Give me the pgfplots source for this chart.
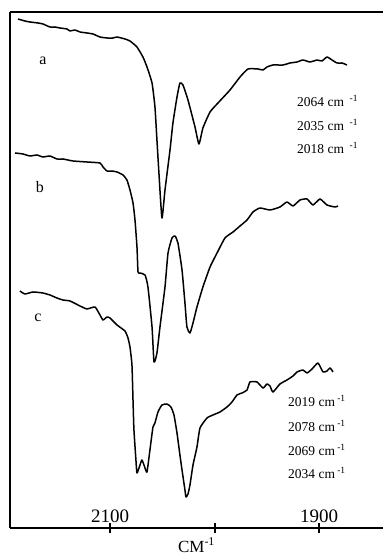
\documentclass[border=0pt]{standalone}
\usepackage{pgfplots}
\pgfplotsset{compat=1.18}
\usepackage{fontspec}
\setmainfont{Liberation Serif}
\tikzset{spec/.style={black, mark=none, line width=1.5bp, line join=round, smooth, tension=0.3}}
\begin{document}
\begin{tikzpicture}
\begin{axis}[name=ax, at={(0,0)}, anchor=south west,
  scale only axis, width=373bp, height=516bp,
  x dir=reverse, xmin=1838.8, xmax=2195.7, ymin=0, ymax=516,
  axis x line=bottom, axis y line=left,
  axis line style={-, line width=2.6bp},
  ytick=\empty,
  xtick={2100,2000,1900}, xticklabels={2100,,1900},
  tick align=center, major tick length=10bp,
  xtick style={line width=2bp, black},
  /pgf/number format/assume math mode=true,
  xticklabel style={anchor=south, yshift=7bp, font=\fontsize{19bp}{22bp}\selectfont},
  xlabel={CM\textsuperscript{-1}},
  every axis x label/.style={at={(axis description cs:0.5,0)}, anchor=base, yshift=-24bp, font=\fontsize{17bp}{20bp}\selectfont},
  clip=false,
]
\addplot[spec] coordinates {
(2188.1,509)(2181.4,507)(2176.6,506)(2168.9,505)(2164.2,504)(2157.5,501)(2152.7,501)
(2147.9,500)(2141.2,499)(2138.3,497)(2133.5,498)(2128.7,496)(2122.0,495)(2116.3,494)
(2109.6,491)(2102.9,490)(2097.2,490)(2093.3,491)(2085.7,489)(2080.9,487)(2074.2,481)
(2068.5,471)(2064.6,461)(2059.8,445)(2057.0,421)(2055.1,388)(2053.2,355)(2050.3,310)
(2047.4,338)(2042.6,378)(2039.8,405)(2035.9,431)(2033.1,445)(2030.2,443)(2025.4,428)
(2018.7,401)(2014.9,384)(2011.1,400)(2004.3,416)(1996.7,425)(1985.2,438)(1975.6,451)
(1968.0,459)(1958.4,459)(1953.6,458)(1949.8,461)(1944.1,463)(1934.5,463)(1927.8,465)
(1921.1,466)(1915.4,468)(1908.7,466)(1901.9,468)(1897.2,467)(1892.4,471)(1887.6,468)
(1882.8,465)(1878.0,465)(1873.3,463)
};
\addplot[spec] coordinates {
(2190.9,375)(2183.3,374)(2176.6,372)(2169.9,373)(2164.2,371)(2157.5,372)(2150.8,369)
(2145.0,369)(2135.4,367)(2122.0,366)(2109.6,365)(2106.7,361)(2102.9,357)(2098.1,357)
(2093.3,356)(2087.6,353)(2083.8,348)(2080.9,338)(2078.0,325)(2076.1,308)(2074.2,281)
(2073.2,256)(2071.3,255)(2066.5,253)(2063.7,241)(2059.8,201)(2057.9,166)(2055.1,175)
(2052.2,201)(2047.4,241)(2044.5,275)(2040.7,290)(2037.8,292)(2035.0,285)(2031.1,258)
(2028.3,225)(2026.4,201)(2023.5,195)(2020.6,205)(2016.8,221)(2011.1,241)(2004.3,261)
(1997.6,275)(1990.0,290)(1982.3,296)(1975.6,302)(1968.9,308)(1963.2,316)(1956.5,320)
(1946.9,318)(1937.4,321)(1930.7,326)(1924.9,322)(1918.2,328)(1911.5,329)(1905.8,323)
(1899.1,329)(1892.4,323)(1884.7,321)(1881.9,322)
};
\addplot[spec] coordinates {
(2186.2,237)(2181.4,234)(2173.7,236)(2164.2,235)(2157.5,233)(2150.8,230)(2145.0,228)
(2138.3,227)(2128.7,222)(2122.0,219)(2114.4,221)(2109.6,213)(2106.7,208)(2102.9,211)
(2100.0,210)(2093.3,203)(2085.7,197)(2082.8,190)(2080.9,181)(2079.0,163)(2078.0,128)
(2077.1,98)(2075.2,68)(2074.2,55)(2071.3,63)(2069.4,68)(2066.5,60)(2064.6,56)
(2061.8,78)(2058.9,101)(2057.0,105)(2054.1,116)(2050.3,123)(2045.5,124)(2041.7,121)
(2038.8,113)(2035.9,95)(2033.1,73)(2031.1,58)(2028.3,38)(2027.3,31)(2025.4,34)
(2023.5,43)(2020.6,63)(2016.8,81)(2013.9,100)(2007.2,110)(2001.5,113)(1994.8,116)
(1988.1,121)(1983.3,126)(1978.5,133)(1973.7,135)(1968.9,138)(1966.1,146)(1959.4,146)
(1953.6,140)(1949.8,144)(1946.9,142)(1944.1,136)(1937.4,144)(1930.7,148)(1924.9,152)
(1921.1,156)(1915.4,158)(1911.5,155)(1906.7,159)(1901.0,165)(1896.2,156)(1892.4,157)
(1889.5,160)(1886.6,156)
};
\draw[line width=2bp] (rel axis cs:0,1) -- (rel axis cs:1,1);
\begin{scope}[every node/.style={font=\fontsize{16bp}{19bp}\selectfont, inner sep=0pt}]
\node[anchor=base] at (axis cs:2164.2,463) {a};
\node[anchor=base] at (axis cs:2167.0,335) {b};
\node[anchor=base] at (axis cs:2168.9,206) {c};
\end{scope}
\begin{scope}[every node/.style={font=\fontsize{13.5bp}{16bp}\selectfont, inner sep=0pt, anchor=base west}]
\node at (axis cs:1921.1,421) {2064 cm\ \,\textsuperscript{-1}};
\node at (axis cs:1921.1,397) {2035 cm\ \,\textsuperscript{-1}};
\node at (axis cs:1921.1,374) {2018 cm\ \,\textsuperscript{-1}};
\node at (axis cs:1929.7,121) {2019 cm\,\textsuperscript{-1}};
\node at (axis cs:1929.7,96) {2078 cm\,\textsuperscript{-1}};
\node at (axis cs:1929.7,72) {2069 cm\,\textsuperscript{-1}};
\node at (axis cs:1929.7,49) {2034 cm\,\textsuperscript{-1}};
\end{scope}
\end{axis}
\pgfresetboundingbox
\path ([shift={(-10bp,-27bp)}]ax.south west) rectangle ([shift={(0bp,12bp)}]ax.north east);
\end{tikzpicture}
\end{document}
